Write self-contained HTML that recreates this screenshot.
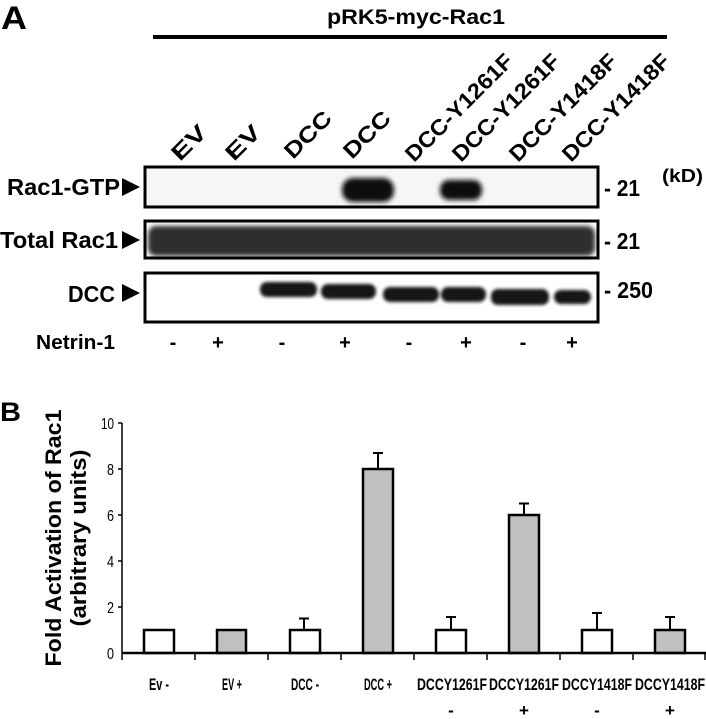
<!DOCTYPE html>
<html><head><meta charset="utf-8"><style>
html,body{margin:0;padding:0;background:#fff}
svg{display:block}
text{font-family:"Liberation Sans",Arial,sans-serif;font-weight:bold;fill:#000}
</style></head><body>
<svg width="706" height="719" viewBox="0 0 706 719" xmlns="http://www.w3.org/2000/svg">
<defs>
<filter id="bl" x="-20%" y="-50%" width="140%" height="200%"><feGaussianBlur stdDeviation="2.5"/></filter>
<filter id="bl2"><feGaussianBlur stdDeviation="1.5"/></filter>
</defs>
<text x="1" y="29" font-size="32" textLength="26" lengthAdjust="spacingAndGlyphs">A</text>
<text x="327" y="24" font-size="21" textLength="178" lengthAdjust="spacingAndGlyphs">pRK5-myc-Rac1</text>
<line x1="153" y1="37" x2="667" y2="37" stroke="#000" stroke-width="4"/>
<g font-size="22">
<text transform="translate(180,162) rotate(-45)" textLength="40" lengthAdjust="spacingAndGlyphs">EV</text>
<text transform="translate(234,162) rotate(-45)" textLength="40" lengthAdjust="spacingAndGlyphs">EV</text>
<text transform="translate(293,160) rotate(-45)" textLength="57" lengthAdjust="spacingAndGlyphs">DCC</text>
<text transform="translate(352,160) rotate(-45)" textLength="57" lengthAdjust="spacingAndGlyphs">DCC</text>
<text transform="translate(414,163) rotate(-45)" textLength="142" lengthAdjust="spacingAndGlyphs">DCC-Y1261F</text>
<text transform="translate(461,163) rotate(-45)" textLength="142" lengthAdjust="spacingAndGlyphs">DCC-Y1261F</text>
<text transform="translate(518,163) rotate(-45)" textLength="142" lengthAdjust="spacingAndGlyphs">DCC-Y1418F</text>
<text transform="translate(571,163) rotate(-45)" textLength="142" lengthAdjust="spacingAndGlyphs">DCC-Y1418F</text>
</g>
<!-- blot 1 -->
<rect x="145" y="167" width="453" height="40" fill="#f6f6f6" stroke="#000" stroke-width="3"/>
<g filter="url(#bl)">
<rect x="342" y="178" width="52" height="24" rx="11" fill="#111"/>
<rect x="440" y="180" width="42" height="20" rx="9" fill="#111"/>
</g>
<!-- blot 2 -->
<rect x="145" y="221" width="453" height="37" fill="#fff" stroke="#000" stroke-width="3"/>
<g filter="url(#bl)">
<rect x="148" y="226" width="447" height="30" rx="8" fill="#2e2e2e"/>
</g>
<rect x="145" y="221" width="453" height="37" fill="none" stroke="#000" stroke-width="3"/>
<!-- blot 3 -->
<rect x="145" y="273" width="453" height="49" fill="#fff" stroke="#000" stroke-width="3"/>
<g filter="url(#bl2)" fill="#151515">
<rect x="260" y="282" width="57" height="15" rx="7"/>
<rect x="321" y="284" width="55" height="15" rx="7"/>
<rect x="383" y="287" width="56" height="15" rx="7"/>
<rect x="441" y="287" width="45" height="15" rx="7"/>
<rect x="491" y="289" width="58" height="16" rx="7"/>
<rect x="554" y="290" width="37" height="14" rx="7"/>
</g>
<g font-size="23">
<text x="7" y="195" textLength="113" lengthAdjust="spacingAndGlyphs">Rac1-GTP</text>
<text x="0" y="248" textLength="118" lengthAdjust="spacingAndGlyphs">Total Rac1</text>
<text x="68" y="302" textLength="47" lengthAdjust="spacingAndGlyphs">DCC</text>
<text x="604" y="196" textLength="36" lengthAdjust="spacingAndGlyphs">- 21</text>
<text x="604" y="249" textLength="36" lengthAdjust="spacingAndGlyphs">- 21</text>
<text x="604" y="298" textLength="49" lengthAdjust="spacingAndGlyphs">- 250</text>
</g>
<polygon points="122,178 140,187 122,196" fill="#000"/>
<polygon points="122,231 140,240 122,249" fill="#000"/>
<polygon points="122,284 140,293 122,302" fill="#000"/>
<text x="662" y="182" font-size="18" textLength="41" lengthAdjust="spacingAndGlyphs">(kD)</text>
<text x="36" y="349" font-size="20" textLength="79" lengthAdjust="spacingAndGlyphs">Netrin-1</text>
<g font-size="20" text-anchor="middle">
<text x="173" y="349">-</text><text x="218" y="349">+</text>
<text x="282" y="349">-</text><text x="345" y="349">+</text>
<text x="409" y="349">-</text><text x="466" y="349">+</text>
<text x="523" y="349">-</text><text x="572" y="349">+</text>
</g>
<!-- B -->
<text x="0" y="421" font-size="27" textLength="21" lengthAdjust="spacingAndGlyphs">B</text>
<g transform="translate(61,538) rotate(-90)" font-size="22" text-anchor="middle">
<text x="0" y="0" textLength="257" lengthAdjust="spacingAndGlyphs">Fold Activation of Rac1</text>
<text x="0" y="25" textLength="177" lengthAdjust="spacingAndGlyphs">(arbitrary units)</text>
</g>
<g font-size="16" text-anchor="end">
<text x="114" y="659" style="font-weight:normal" textLength="7" lengthAdjust="spacingAndGlyphs">0</text>
<text x="114" y="613" style="font-weight:normal" textLength="7" lengthAdjust="spacingAndGlyphs">2</text>
<text x="114" y="567" style="font-weight:normal" textLength="7" lengthAdjust="spacingAndGlyphs">4</text>
<text x="114" y="521" style="font-weight:normal" textLength="7" lengthAdjust="spacingAndGlyphs">6</text>
<text x="114" y="475" style="font-weight:normal" textLength="7" lengthAdjust="spacingAndGlyphs">8</text>
<text x="114" y="429" style="font-weight:normal" textLength="13" lengthAdjust="spacingAndGlyphs">10</text>
</g>
<g stroke="#000" stroke-width="1.5">
<line x1="122" y1="423" x2="122" y2="660"/>
<line x1="118" y1="423" x2="122" y2="423"/><line x1="118" y1="469" x2="122" y2="469"/>
<line x1="118" y1="515" x2="122" y2="515"/><line x1="118" y1="561" x2="122" y2="561"/>
<line x1="118" y1="607" x2="122" y2="607"/>
<line x1="195" y1="653" x2="195" y2="660"/><line x1="268" y1="653" x2="268" y2="660"/>
<line x1="341" y1="653" x2="341" y2="660"/><line x1="414" y1="653" x2="414" y2="660"/>
<line x1="487" y1="653" x2="487" y2="660"/><line x1="560" y1="653" x2="560" y2="660"/>
<line x1="633" y1="653" x2="633" y2="660"/><line x1="705" y1="653" x2="705" y2="660"/>
</g>
<g stroke="#000" stroke-width="2">
<line x1="304" y1="630" x2="304" y2="618.5"/><line x1="299" y1="618.5" x2="309" y2="618.5"/>
<line x1="378" y1="469" x2="378" y2="453"/><line x1="373" y1="453" x2="383" y2="453"/>
<line x1="451" y1="630" x2="451" y2="617"/><line x1="446" y1="617" x2="456" y2="617"/>
<line x1="524" y1="515" x2="524" y2="503.5"/><line x1="519" y1="503.5" x2="529" y2="503.5"/>
<line x1="597" y1="630" x2="597" y2="613"/><line x1="592" y1="613" x2="602" y2="613"/>
<line x1="670" y1="630" x2="670" y2="617"/><line x1="665" y1="617" x2="675" y2="617"/>
</g>
<g stroke="#000" stroke-width="2.5">
<rect x="144" y="630" width="30" height="23" fill="#fff"/>
<rect x="217" y="630" width="29" height="23" fill="#c0c0c0"/>
<rect x="290" y="630" width="30" height="23" fill="#fff"/>
<rect x="363" y="469" width="30" height="184" fill="#c0c0c0"/>
<rect x="436" y="630" width="30" height="23" fill="#fff"/>
<rect x="509" y="515" width="30" height="138" fill="#c0c0c0"/>
<rect x="582" y="630" width="30" height="23" fill="#fff"/>
<rect x="655" y="630" width="30" height="23" fill="#c0c0c0"/>
</g>
<line x1="122" y1="653" x2="706" y2="653" stroke="#000" stroke-width="2.5"/>
<g font-size="17" text-anchor="middle">
<text x="159" y="690" textLength="20" lengthAdjust="spacingAndGlyphs">Ev -</text>
<text x="232" y="690" textLength="20" lengthAdjust="spacingAndGlyphs">EV +</text>
<text x="305" y="690" textLength="28" lengthAdjust="spacingAndGlyphs">DCC -</text>
<text x="378" y="690" textLength="28" lengthAdjust="spacingAndGlyphs">DCC +</text>
<text x="452" y="690" textLength="70" lengthAdjust="spacingAndGlyphs">DCCY1261F</text>
<text x="524" y="690" textLength="70" lengthAdjust="spacingAndGlyphs">DCCY1261F</text>
<text x="597" y="690" textLength="70" lengthAdjust="spacingAndGlyphs">DCCY1418F</text>
<text x="670" y="690" textLength="70" lengthAdjust="spacingAndGlyphs">DCCY1418F</text>
<text x="451" y="716">-</text><text x="524" y="716">+</text>
<text x="597" y="716">-</text><text x="670" y="716">+</text>
</g>
</svg>
</body></html>
